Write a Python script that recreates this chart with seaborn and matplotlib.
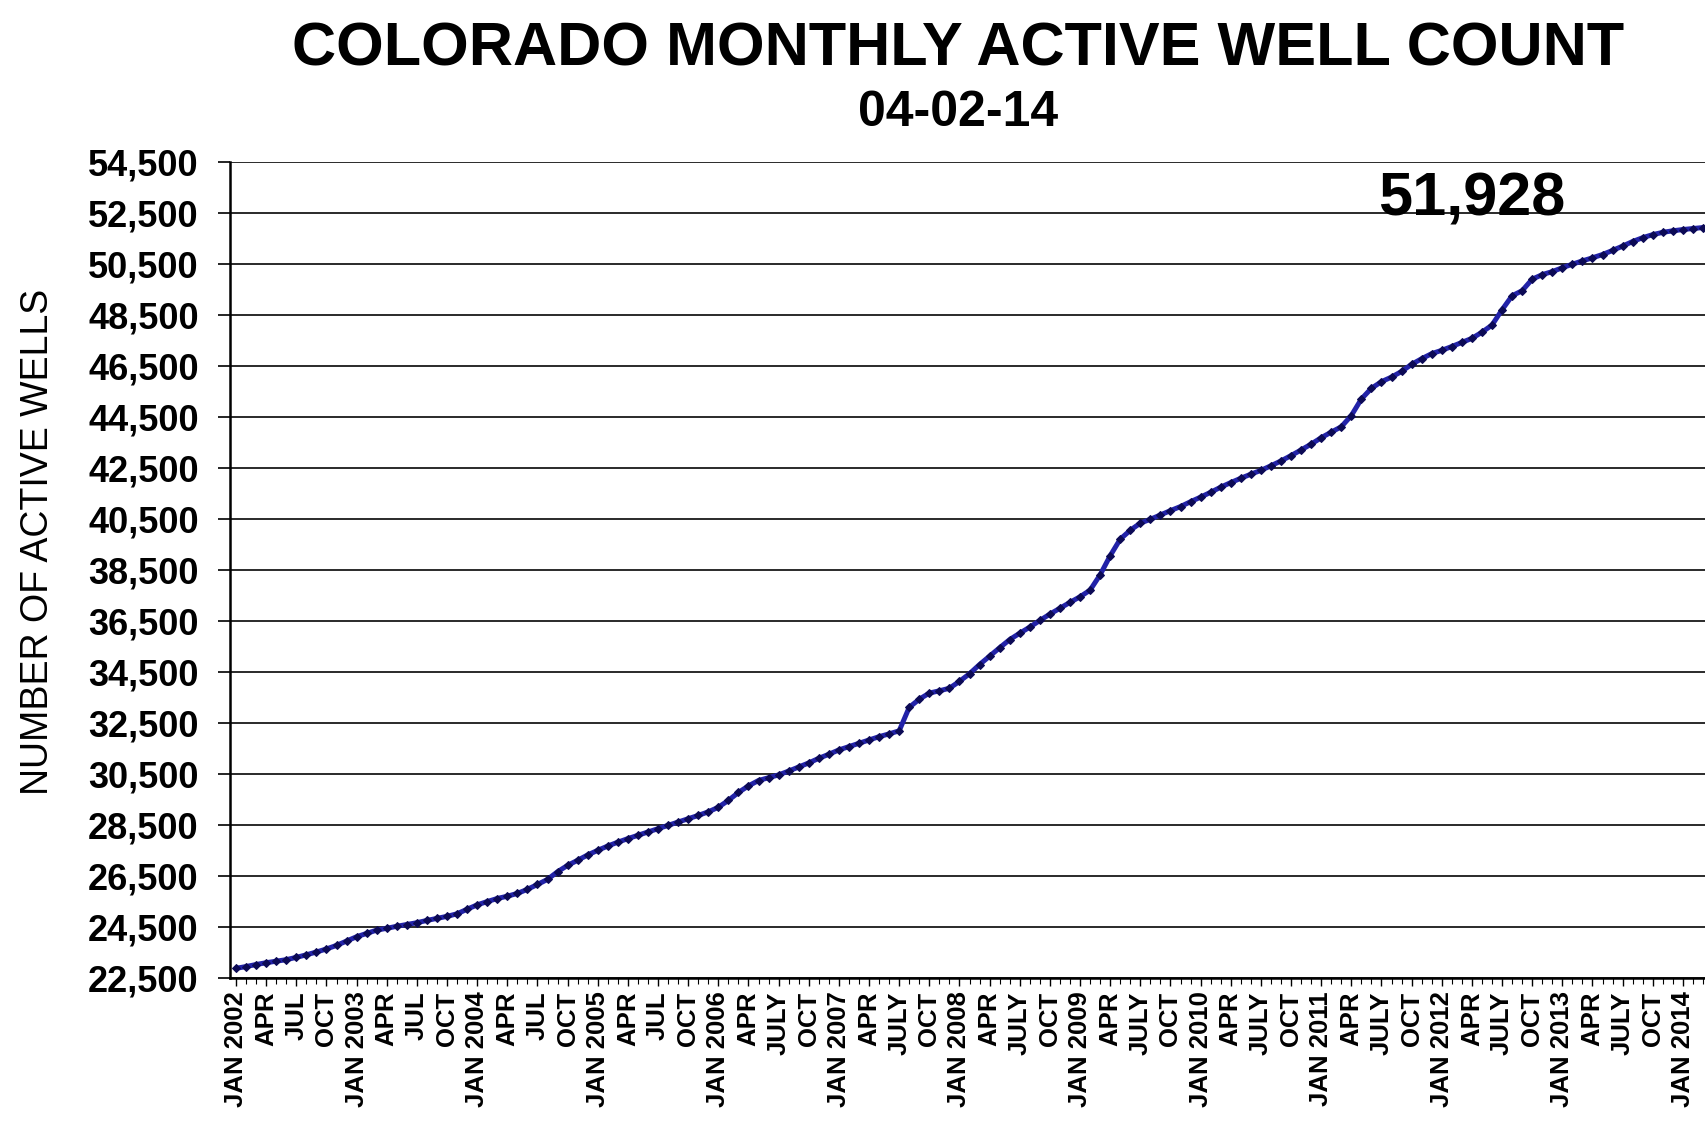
import matplotlib
matplotlib.use("Agg")
import matplotlib.pyplot as plt
from matplotlib.ticker import FuncFormatter, MultipleLocator
import pandas as pd
import seaborn as sns

# monthly active well count, JAN 2002 .. MAR 2014
wells_2002 = [22860, 22930, 23010, 23080, 23140, 23200, 23290, 23390, 23500, 23620, 23760, 23930]
wells_2003 = [24100, 24230, 24360, 24430, 24510, 24580, 24650, 24740, 24820, 24900, 25000, 25180]
wells_2004 = [25350, 25480, 25600, 25690, 25800, 25960, 26150, 26350, 26650, 26900, 27100, 27310]
wells_2005 = [27490, 27660, 27810, 27950, 28080, 28210, 28340, 28470, 28600, 28730, 28860, 29000]
wells_2006 = [29180, 29450, 29760, 30020, 30230, 30340, 30450, 30600, 30760, 30920, 31100, 31260]
wells_2007 = [31430, 31560, 31690, 31820, 31950, 32060, 32180, 33100, 33420, 33660, 33750, 33850]
wells_2008 = [34120, 34420, 34780, 35110, 35440, 35760, 36010, 36250, 36510, 36760, 36990, 37220]
wells_2009 = [37440, 37700, 38300, 39050, 39700, 40050, 40330, 40480, 40650, 40820, 40980, 41170]
wells_2010 = [41350, 41540, 41740, 41920, 42090, 42250, 42400, 42580, 42770, 42980, 43200, 43430]
wells_2011 = [43680, 43900, 44110, 44550, 45200, 45620, 45880, 46060, 46280, 46560, 46780, 46980]
wells_2012 = [47110, 47260, 47420, 47580, 47820, 48100, 48700, 49250, 49450, 49900, 50080, 50200]
wells_2013 = [50350, 50490, 50620, 50740, 50870, 51030, 51200, 51380, 51530, 51650, 51740, 51800]
wells_2014 = [51850, 51890, 51928]

wells = (wells_2002 + wells_2003 + wells_2004 + wells_2005 + wells_2006 + wells_2007
         + wells_2008 + wells_2009 + wells_2010 + wells_2011 + wells_2012 + wells_2013 + wells_2014)
months = list(range(len(wells)))

tick_labels = ["JAN 2002", "APR", "JUL", "OCT",
               "JAN 2003", "APR", "JUL", "OCT",
               "JAN 2004", "APR", "JUL", "OCT",
               "JAN 2005", "APR", "JUL", "OCT",
               "JAN 2006", "APR", "JULY", "OCT",
               "JAN 2007", "APR", "JULY", "OCT",
               "JAN 2008", "APR", "JULY", "OCT",
               "JAN 2009", "APR", "JULY", "OCT",
               "JAN 2010", "APR", "JULY", "OCT",
               "JAN 2011", "APR", "JULY", "OCT",
               "JAN 2012", "APR", "JULY", "OCT",
               "JAN 2013", "APR", "JULY", "OCT",
               "JAN 2014"]

last_count = "51,928"

df = pd.DataFrame({"month": months, "wells": wells})

sns.set_style("white")
plt.rcParams['font.family'] = ['Liberation Sans', 'DejaVu Sans']
plt.rcParams['text.color'] = 'black'
plt.rcParams['xtick.color'] = 'black'
plt.rcParams['ytick.color'] = 'black'

fig = plt.figure(figsize=(17.05, 11.25), dpi=100)
ax = fig.add_axes([0.1349, 0.1311, 0.8651, 0.7249])

sns.lineplot(data=df, x="month", y="wells", ax=ax, color="#2222a8", linewidth=3.6,
             marker="D", markersize=4.5, markeredgecolor="#0c0a55", markerfacecolor="#0c0a55",
             zorder=3)

ax.set_xlim(-0.6, 146.2)
ax.set_ylim(22500, 54500)

ax.set_yticks(list(range(22500, 54501, 2000)))
ax.yaxis.set_major_formatter(FuncFormatter(lambda v, p: f"{int(v):,}"))
ax.set_xticks(list(range(0, len(tick_labels) * 3, 3)))
ax.set_xticklabels(tick_labels, rotation=90)
ax.xaxis.set_minor_locator(MultipleLocator(1))

ax.yaxis.grid(True, color="#2a2a2a", linewidth=1.4)
ax.xaxis.grid(False)
for s in ["top", "right"]:
    ax.spines[s].set_visible(False)
for s in ["left", "bottom"]:
    ax.spines[s].set_color("black")
    ax.spines[s].set_linewidth(1.8)

ax.tick_params(axis="y", which="major", direction="out", length=8.5, width=1.2, pad=14,
               labelsize=26, left=True)
ax.tick_params(axis="x", which="major", direction="out", length=6, width=1.0, pad=4,
               labelsize=18.5, bottom=True)
ax.tick_params(axis="x", which="minor", direction="out", length=4, width=0.8, bottom=True)
for lab in ax.get_yticklabels() + ax.get_xticklabels():
    lab.set_fontweight("bold")

ax.set_xlabel("")
ax.set_ylabel("")

fig.text(0.022, 0.518, "NUMBER OF ACTIVE WELLS", rotation=90, ha="center", va="center",
         fontsize=27)
fig.text(0.562, 0.956, "COLORADO MONTHLY ACTIVE WELL COUNT", ha="center", va="center",
         fontsize=44, fontweight="bold")
fig.text(0.562, 0.8995, "04-02-14", ha="center", va="center", fontsize=36, fontweight="bold")

ax.text(123, 53000, last_count, ha="center", va="center", fontsize=44, fontweight="bold")

fig.savefig("out.png", dpi=100, facecolor="white")
